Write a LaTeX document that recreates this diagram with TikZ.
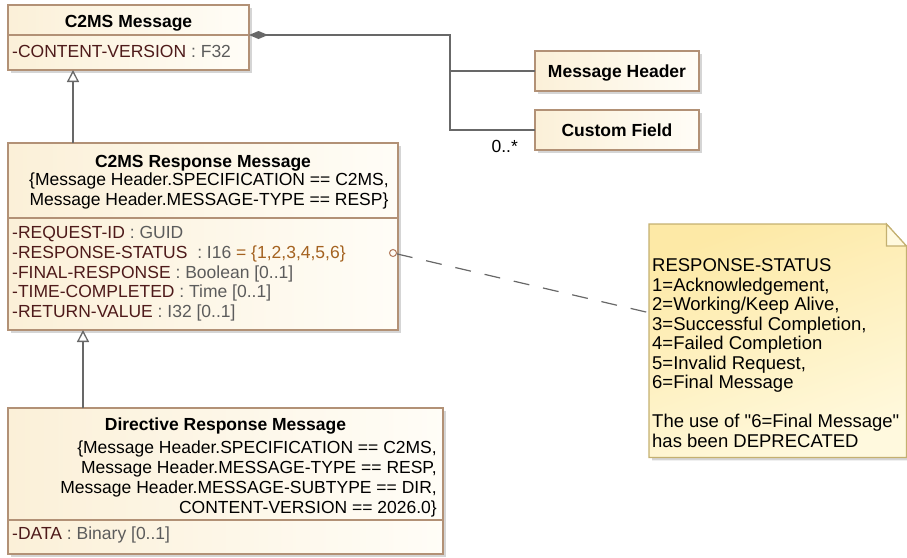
\documentclass[tikz,border=0pt]{standalone}
\usepackage{fontspec}
\setmainfont{Liberation Sans}[Ligatures=TeXOff]
\usetikzlibrary{arrows.meta,shadows,calc}

\definecolor{clsline}{RGB}{178,145,118}
\definecolor{clsleft}{RGB}{251,240,216}
\definecolor{clsright}{RGB}{255,253,247}
\definecolor{shadowgray}{RGB}{172,172,172}
\definecolor{attrname}{RGB}{78,26,26}
\definecolor{attrtype}{RGB}{92,92,92}
\definecolor{attrval}{RGB}{164,98,32}
\definecolor{edgegray}{RGB}{104,104,104}
\definecolor{noteline}{RGB}{196,176,112}
\definecolor{notedark}{RGB}{253,233,166}
\definecolor{notelight}{RGB}{255,249,222}
\definecolor{statcol}{RGB}{178,122,92}

\newcommand{\umlfont}{\fontsize{17.5}{20}\selectfont}
\newcommand{\notefont}{\fontsize{18.5}{19.5}\selectfont}
\newcommand{\attrline}[2]{\textcolor{attrname}{#1} \textcolor{attrtype}{: #2}}

\tikzstyle{cls} = [draw=clsline, line width=1.3pt, left color=clsleft, right color=clsright,
    anchor=north west, inner sep=0pt, outer sep=0pt,
    drop shadow={shadow xshift=3pt, shadow yshift=-3pt, fill=shadowgray}]
\tikzstyle{sep} = [draw=clsline, line width=1.3pt]
\tikzstyle{umltitle} = [font=\umlfont\bfseries, inner sep=0pt, anchor=base]
\tikzstyle{umlattr} = [inner sep=0pt, anchor=base west]
\tikzstyle{umlcons} = [inner sep=0pt, align=center, anchor=base]
\tikzstyle{gen} = [draw=edgegray, line width=1.3pt, -{Triangle[open, length=12pt, width=12pt]}]
\tikzstyle{comp} = [draw=edgegray, line width=1.3pt, {Diamond[length=19pt, width=8pt]}-]
\tikzstyle{notelink} = [draw=edgegray, line width=1.2pt, dash pattern=on 16pt off 14pt]
\tikzstyle{notebody} = [draw=noteline, line width=1.2pt, top color=notedark, bottom color=notelight,
    shading angle=20, drop shadow={shadow xshift=3pt, shadow yshift=-3pt, fill=shadowgray}]

\begin{document}
\begin{tikzpicture}[x=1pt, y=-1pt, font=\umlfont]
\useasboundingbox (0,0) rectangle (907,557);

\node[cls, minimum width=241pt, minimum height=65pt] (msg) at (8,5) {};
\draw[sep] (msg.west |- 0,35) -- (msg.east |- 0,35);
\node[umltitle] (msgname) at (128.5,27) {C2MS Message};
\node[umlattr] (msgver) at (12,57) {\attrline{-CONTENT-VERSION}{F32}};

\node[cls, minimum width=164pt, minimum height=40pt] (hdr) at (535,51) {};
\node[umltitle] (hdrname) at (617,77) {Message Header};
\node[cls, minimum width=164pt, minimum height=40pt] (cf) at (535,110) {};
\node[umltitle] (cfname) at (617,136) {Custom Field};

\node[cls, minimum width=390pt, minimum height=187pt] (resp) at (8,143) {};
\draw[sep] (resp.west |- 0,218) -- (resp.east |- 0,218);
\node[umltitle] (respname) at (203,167) {C2MS Response Message};
\node[umlcons] (respcons) at (209,205) {\{Message Header.SPECIFICATION == C2MS,\\
    Message Header.MESSAGE-TYPE == RESP\}};
\node[umlattr] (rid) at (12,238) {\attrline{-REQUEST-ID}{GUID}};
\node[umlattr] (rstat) at (12,258) {\textcolor{attrname}{-RESPONSE-STATUS}\ \ \textcolor{attrtype}{: I16} \textcolor{attrval}{= \{1,2,3,4,5,6\}}};
\node[umlattr] (rfinal) at (12,278) {\attrline{-FINAL-RESPONSE}{Boolean [0..1]}};
\node[umlattr] (rtime) at (12,297) {\attrline{-TIME-COMPLETED}{Time [0..1]}};
\node[umlattr] (rret) at (12,317) {\attrline{-RETURN-VALUE}{I32 [0..1]}};

\node[cls, minimum width=435pt, minimum height=146pt] (dir) at (8,408) {};
\draw[sep] (dir.west |- 0,520) -- (dir.east |- 0,520);
\node[umltitle] (dirname) at (225.5,430) {Directive Response Message};
\node[umlcons, align=right, anchor=base east] (dircons) at (437,513) {\{Message Header.SPECIFICATION == C2MS,\\
    Message Header.MESSAGE-TYPE == RESP,\\
    Message Header.MESSAGE-SUBTYPE == DIR,\\
    CONTENT-VERSION == 2026.0\}};
\node[umlattr] (ddata) at (12,539) {\attrline{-DATA}{Binary [0..1]}};

\node[inner sep=0pt, minimum width=257pt, minimum height=233pt, anchor=north west] (note) at (649,224) {};
\path[notebody] (note.north west) -- ([xshift=-20pt]note.north east) -- ([yshift=-22pt]note.north east)
    -- (note.south east) -- (note.south west) -- cycle;
\draw[draw=noteline, line width=1.2pt, fill=notelight] ([xshift=-20pt]note.north east) |- ([yshift=-22pt]note.north east) -- cycle;
\node[umlattr, align=left, font=\notefont] (notetext) at (652,447) {RESPONSE-STATUS\\
    1=Acknowledgement,\\
    2=Working/Keep Alive,\\
    3=Successful Completion,\\
    4=Failed Completion\\
    5=Invalid Request,\\
    6=Final Message\\[19.5pt]
    The use of "6=Final Message"\\
    has been DEPRECATED};

\coordinate (hub) at (450,35);
\draw[comp] (msg.east |- hub) -- (hub) |- (hdr.west);
\draw[draw=edgegray, line width=1.3pt] (hub) |- (cf.west);
\node[inner sep=0pt, anchor=base east] (cfmult) at ([xshift=-17pt]cf.west |- 0,152) {0..*};

\draw[gen] ([xshift=65pt]resp.north west) -- ([xshift=65pt]msg.south west);
\draw[gen] ([xshift=75pt]dir.north west) -- ([xshift=75pt]resp.south west);

\node[circle, draw=statcol, line width=1pt, inner sep=0pt, minimum size=7pt] (stat) at (393,253) {};
\draw[notelink] (stat) -- ($(note.north west)!0.38!(note.south west)$);
\end{tikzpicture}
\end{document}
